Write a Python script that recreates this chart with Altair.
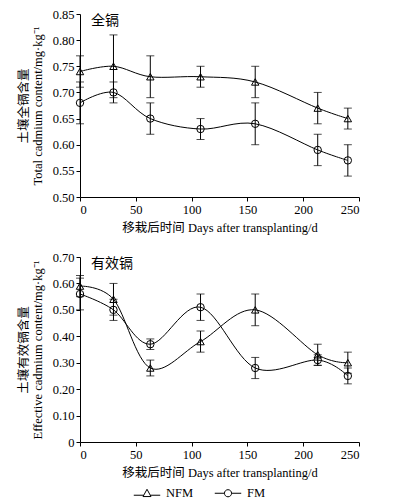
import altair as alt
import pandas as pd

days = [0, 30, 63, 108, 157, 213, 240]
series_names = ["NFM", "FM"]

total_nfm = [0.74, 0.75, 0.73, 0.73, 0.72, 0.67, 0.65]
total_nfm_err = [0.03, 0.06, 0.04, 0.02, 0.03, 0.03, 0.02]
total_fm = [0.68, 0.70, 0.65, 0.63, 0.64, 0.59, 0.57]
total_fm_err = [0.04, 0.02, 0.03, 0.02, 0.04, 0.03, 0.03]

eff_nfm = [0.59, 0.54, 0.28, 0.38, 0.50, 0.33, 0.30]
eff_nfm_err = [0.04, 0.06, 0.03, 0.04, 0.06, 0.04, 0.04]
eff_fm = [0.56, 0.50, 0.37, 0.51, 0.28, 0.31, 0.25]
eff_fm_err = [0.06, 0.04, 0.02, 0.05, 0.04, 0.02, 0.03]

x_ticks = [0, 50, 100, 150, 200, 250]
top_ticks = [0.50, 0.55, 0.60, 0.65, 0.70, 0.75, 0.80, 0.85]
bot_ticks = [0.0, 0.1, 0.2, 0.3, 0.4, 0.5, 0.6, 0.7]

FONT = "Liberation Serif, 'Noto Sans CJK SC', serif"

TRI_PATH = "M-1,0.15H-0.25M0.25,0.15H1M0,-0.3L0.3,0.25L-0.3,0.25Z"
CIR_PATH = "M-1,0H-0.27M0.27,0H1M0.27,0A0.27,0.27,0,1,1,-0.27,0A0.27,0.27,0,1,1,0.27,0"


def panel_df(nfm, nfm_err, fm, fm_err):
    rows = []
    for name, vals, errs in [("NFM", nfm, nfm_err), ("FM", fm, fm_err)]:
        for d, v, e in zip(days, vals, errs):
            rows.append({"day": d, "series": name, "value": v,
                         "lo": round(v - e, 3), "hi": round(v + e, 3)})
    return pd.DataFrame(rows)


def panel(df, dom, ticks, ytitle, label, height, label_expr, with_legend):
    xaxis = alt.Axis(values=x_ticks, title="移栽后时间 Days after transplanting/d",
                     labelPadding=2, titlePadding=6)
    xscale = alt.Scale(domain=[0, 250], nice=False, zero=False)
    x = alt.X("day:Q", scale=xscale, axis=xaxis)
    yscale = alt.Scale(domain=dom, nice=False, zero=False)
    yaxis = alt.Axis(values=ticks, labelExpr=label_expr, title=ytitle,
                     labelOverlap=False, titlePadding=8, titleLineHeight=14)

    def Y(field):
        return alt.Y(field, scale=yscale, axis=yaxis)

    base = alt.Chart(df)
    line = base.mark_line(interpolate="cardinal", color="black", strokeWidth=1).encode(
        x=x, y=Y("value:Q"), detail="series:N")
    err = base.mark_rule(color="black", strokeWidth=1).encode(
        x=x, y=Y("lo:Q"), y2="hi:Q")
    cap_lo = base.mark_tick(color="black", thickness=1, size=8, orient="horizontal").encode(
        x=x, y=Y("lo:Q"))
    cap_hi = base.mark_tick(color="black", thickness=1, size=8, orient="horizontal").encode(
        x=x, y=Y("hi:Q"))
    pts = base.mark_point(filled=False, color="black", size=55, strokeWidth=1, opacity=1).encode(
        x=x, y=Y("value:Q"),
        shape=alt.Shape("series:N",
                        scale=alt.Scale(domain=series_names, range=["triangle-up", "circle"]),
                        legend=None))
    txt = alt.Chart(pd.DataFrame({"t": [label]})).mark_text(
        align="left", baseline="top", font=FONT, fontSize=14, color="black").encode(
        text="t:N", x=alt.value(11), y=alt.value(0))
    layers = [line, err, cap_lo, cap_hi, pts, txt]
    if with_legend:
        leg = base.transform_filter("datum.day < 0").mark_point(
            filled=False, color="black", strokeWidth=1, opacity=1).encode(
            shape=alt.Shape("series:N",
                            scale=alt.Scale(domain=series_names, range=[TRI_PATH, CIR_PATH]),
                            legend=alt.Legend(title=None, orient="none", direction="horizontal",
                                              legendX=53, legendY=222, symbolSize=700,
                                              labelFont=FONT, labelFontSize=12.5,
                                              labelOffset=5, columnPadding=18,
                                              symbolStrokeColor="black",
                                              symbolStrokeWidth=1)))
        layers.append(leg)
    return alt.layer(*layers).resolve_scale(shape="independent").properties(
        width=279, height=height)


top = panel(panel_df(total_nfm, total_nfm_err, total_fm, total_fm_err),
            [0.50, 0.85], top_ticks,
            ["土壤全镉含量", "Total cadmium content/mg·kg⁻¹"], "全镉", 183,
            "format(datum.value, '.2f')", False)
bottom = panel(panel_df(eff_nfm, eff_nfm_err, eff_fm, eff_fm_err),
               [0.0, 0.70], bot_ticks,
               ["土壤有效镉含量", "Effective cadmium content/mg·kg⁻¹"], "有效镉", 185,
               "datum.value == 0 ? '0' : format(datum.value, '.2f')", True)

chart = alt.vconcat(top, bottom, spacing=17).properties(
    padding={"left": 9, "top": 0, "right": 0, "bottom": 0}
).configure_view(stroke=None).configure_axis(
    domainColor="black", tickColor="black", tickSize=4, grid=False,
    labelFont=FONT, labelFontSize=12.5, labelColor="black",
    titleFont=FONT, titleFontSize=12.5, titleFontWeight="normal", titleColor="black"
)

chart.save("out.html", embed_options={"renderer": "svg", "actions": False})
